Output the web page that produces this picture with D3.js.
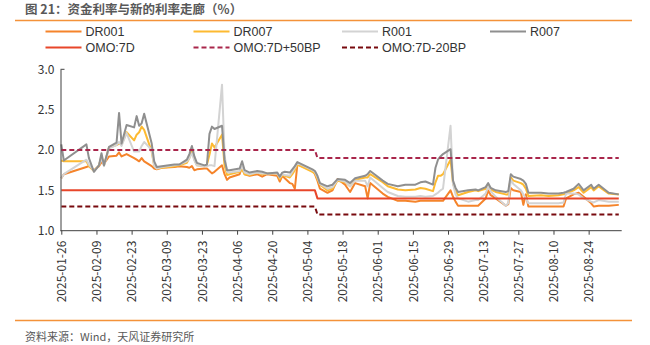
<!DOCTYPE html>
<html><head><meta charset="utf-8">
<script src="https://cdn.jsdelivr.net/npm/d3@7"></script>
<style>
body{margin:0;background:#fff;}
svg{display:block;font-family:"Noto Sans CJK SC","Noto Sans",sans-serif;}
</style></head><body>
<svg id="c" width="650" height="345"></svg>
<script>
// ---- data ----
const dates = ["2025-01-26","2025-01-27","2025-02-05","2025-02-06","2025-02-08","2025-02-10","2025-02-11","2025-02-12","2025-02-14","2025-02-17",
"2025-02-18","2025-02-19","2025-02-21","2025-02-24","2025-02-25","2025-02-26","2025-02-27","2025-02-28","2025-03-03","2025-03-04",
"2025-03-05","2025-03-07","2025-03-12","2025-03-14","2025-03-17","2025-03-18","2025-03-19","2025-03-20","2025-03-21","2025-03-24",
"2025-03-25","2025-03-26","2025-03-27","2025-03-28","2025-03-31","2025-04-01","2025-04-02","2025-04-03","2025-04-07","2025-04-08",
"2025-04-09","2025-04-11","2025-04-14","2025-04-16","2025-04-18","2025-04-22","2025-04-23","2025-04-24","2025-04-25","2025-04-27",
"2025-04-28","2025-04-29","2025-04-30","2025-05-06","2025-05-07","2025-05-08","2025-05-09","2025-05-12","2025-05-14","2025-05-16",
"2025-05-19","2025-05-21","2025-05-23","2025-05-27","2025-05-28","2025-05-29","2025-06-03","2025-06-05","2025-06-09","2025-06-12",
"2025-06-16","2025-06-18","2025-06-20","2025-06-23","2025-06-24","2025-06-25","2025-06-26","2025-06-27","2025-06-30","2025-07-01",
"2025-07-02","2025-07-03","2025-07-07","2025-07-10","2025-07-11","2025-07-14","2025-07-15","2025-07-16","2025-07-18","2025-07-22",
"2025-07-23","2025-07-24","2025-07-25","2025-07-28","2025-07-29","2025-07-30","2025-07-31","2025-08-05","2025-08-08","2025-08-12",
"2025-08-14","2025-08-15","2025-08-18","2025-08-20","2025-08-22","2025-08-25","2025-08-26","2025-08-28","2025-09-01","2025-09-05"];

const dr001 = [1.65,1.70,1.79,1.80,1.75,1.80,1.85,1.83,1.92,1.93,
1.97,1.92,1.95,1.90,1.88,1.86,1.90,1.86,1.80,1.77,
1.76,1.78,1.79,1.80,1.79,1.78,1.80,1.75,1.76,1.77,
1.77,1.74,1.71,1.73,1.81,1.70,1.63,1.66,1.70,1.79,
1.70,1.68,1.70,1.67,1.70,1.68,1.61,1.68,1.65,1.59,
1.58,1.52,1.82,1.75,1.70,1.62,1.52,1.47,1.50,1.64,
1.57,1.48,1.59,1.55,1.40,1.59,1.46,1.42,1.37,1.37,
1.36,1.37,1.37,1.37,1.37,1.37,1.37,1.37,1.50,1.42,
1.36,1.31,1.31,1.31,1.31,1.40,1.50,1.44,1.40,1.31,
1.33,1.53,1.50,1.48,1.32,1.45,1.30,1.30,1.30,1.30,
1.30,1.40,1.45,1.47,1.42,1.34,1.30,1.31,1.31,1.32];

const dr007 = [1.87,1.86,1.86,1.80,1.74,1.81,1.92,1.81,2.03,2.06,
2.08,2.07,2.22,2.12,2.19,2.22,2.29,2.25,1.98,1.80,
1.77,1.78,1.80,1.81,1.84,1.90,2.00,1.88,1.81,1.80,
1.82,1.94,2.08,2.03,2.19,1.81,1.69,1.70,1.73,1.76,
1.70,1.69,1.72,1.70,1.71,1.71,1.64,1.69,1.68,1.66,
1.70,1.75,1.82,1.73,1.71,1.64,1.57,1.50,1.52,1.62,
1.60,1.55,1.63,1.66,1.66,1.70,1.60,1.55,1.51,1.50,
1.51,1.53,1.52,1.49,1.60,1.68,1.68,1.70,1.88,1.58,
1.50,1.44,1.48,1.50,1.49,1.52,1.57,1.51,1.48,1.45,
1.45,1.66,1.62,1.59,1.57,1.52,1.43,1.44,1.43,1.44,
1.45,1.46,1.50,1.54,1.47,1.54,1.50,1.55,1.46,1.45];

const r001 = [1.65,1.70,1.88,1.82,1.74,1.81,1.90,1.80,2.02,2.06,
2.10,2.05,2.21,1.98,1.98,1.98,2.05,2.10,2.00,1.80,
1.77,1.79,1.81,1.82,1.86,1.90,1.96,1.87,1.81,1.80,
1.80,1.81,1.81,1.80,2.81,1.94,1.73,1.72,1.74,1.80,
1.72,1.70,1.72,1.71,1.71,1.71,1.66,1.70,1.69,1.68,
1.73,1.78,1.84,1.75,1.73,1.66,1.58,1.52,1.54,1.63,
1.61,1.55,1.62,1.62,1.55,1.66,1.53,1.48,1.43,1.42,
1.42,1.43,1.42,1.43,1.45,1.47,1.50,1.52,2.30,1.58,
1.45,1.40,1.36,1.38,1.38,1.46,1.55,1.49,1.42,1.31,
1.34,1.63,1.58,1.50,1.45,1.40,1.34,1.34,1.34,1.34,
1.35,1.46,1.46,1.45,1.40,1.36,1.35,1.38,1.36,1.36];

const r007 = [2.07,1.87,2.07,1.90,1.73,1.81,1.96,1.81,2.04,2.09,
2.46,2.08,2.31,2.28,2.42,2.30,2.33,2.45,2.08,1.86,
1.79,1.80,1.82,1.82,1.88,1.95,2.05,1.92,1.84,1.81,
1.82,2.20,2.29,2.26,2.30,1.88,1.75,1.75,1.77,1.86,
1.75,1.72,1.74,1.73,1.71,1.72,1.67,1.72,1.73,1.72,
1.76,1.80,1.85,1.76,1.74,1.68,1.59,1.55,1.57,1.64,
1.63,1.59,1.65,1.68,1.70,1.74,1.62,1.58,1.55,1.57,
1.57,1.60,1.61,1.57,1.78,1.88,1.92,1.95,2.01,1.62,
1.53,1.48,1.50,1.51,1.50,1.54,1.59,1.53,1.50,1.48,
1.49,1.70,1.67,1.64,1.62,1.58,1.47,1.47,1.46,1.46,
1.47,1.48,1.52,1.58,1.50,1.57,1.52,1.57,1.47,1.45];

const omoDates = ["2025-01-26","2025-05-07","2025-05-08","2025-09-05"];
const omo7d    = [1.5,1.5,1.4,1.4];
const omoUp    = [2.0,2.0,1.9,1.9];
const omoDown  = [1.3,1.3,1.2,1.2];

const yTicks = [1.0,1.5,2.0,2.5,3.0];
const xTickDates = ["2025-01-26","2025-02-09","2025-02-23","2025-03-09","2025-03-23","2025-04-06","2025-04-20",
"2025-05-04","2025-05-18","2025-06-01","2025-06-15","2025-06-29","2025-07-13","2025-07-27","2025-08-10","2025-08-24"];

const title = "图 21：资金利率与新的利率走廊（%）";
const source = "资料来源：Wind，天风证券研究所";

// ---- drawing ----
const parse = d3.timeParse("%Y-%m-%d");
const svg = d3.select("#c");
const x = d3.scaleTime().domain([parse("2025-01-26"), parse("2025-09-06")]).range([61.3, 621.3]);
const y = d3.scaleLinear().domain([1.0, 3.0]).range([230.7, 69.3]);

// title & frame lines
svg.append("text").attr("x",25).attr("y",14).attr("font-size",12.5).attr("font-weight","bold")
  .attr("fill","#595959").text(title);
svg.append("line").attr("x1",15).attr("x2",632).attr("y1",20.5).attr("y2",20.5).attr("stroke","#F4923A").attr("stroke-width",1.3);
svg.append("line").attr("x1",15).attr("x2",632).attr("y1",320.5).attr("y2",320.5).attr("stroke","#F4923A").attr("stroke-width",1.3);
svg.append("text").attr("x",25).attr("y",341).attr("font-size",11).attr("fill","#595959").text(source);

// series
const series = [
  {name:"DR001", d:dates, v:dr001, color:"#F5842B", dash:null},
  {name:"DR007", d:dates, v:dr007, color:"#FDBA31", dash:null},
  {name:"R001",  d:dates, v:r001,  color:"#D3D3D3", dash:null},
  {name:"R007",  d:dates, v:r007,  color:"#8F8F8F", dash:null},
  {name:"OMO:7D", d:omoDates, v:omo7d, color:"#E8462A", dash:null},
  {name:"OMO:7D+50BP", d:omoDates, v:omoUp, color:"#A9264B", dash:"5,3"},
  {name:"OMO:7D-20BP", d:omoDates, v:omoDown, color:"#780A0E", dash:"5,3"}
];
const line = d3.line().x(p=>x(p[0])).y(p=>y(p[1]));
const g = svg.append("g");
series.forEach(s=>{
  const pts = s.d.map((dd,i)=>[parse(dd), s.v[i]]);
  g.append("path").attr("d", line(pts)).attr("fill","none").attr("stroke",s.color)
   .attr("stroke-width",2).attr("stroke-linejoin","round")
   .attr("stroke-dasharray", s.dash);
});

// axes
const yAxis = svg.append("g").attr("transform","translate(60.5,0)")
  .call(d3.axisLeft(y).tickValues(yTicks).tickFormat(d3.format(".1f")).tickSize(0).tickPadding(6));
yAxis.select(".domain").attr("stroke","#404040");
yAxis.selectAll("text").attr("font-size",12).attr("fill","#333").attr("font-family","\"Noto Sans CJK SC\",sans-serif");
svg.append("line").attr("x1",60.5).attr("x2",64.5).attr("y1",y(3.0)).attr("y2",y(3.0)).attr("stroke","#404040");

const xAxis = svg.append("g").attr("transform","translate(0,230.7)")
  .call(d3.axisBottom(x).tickValues(xTickDates.map(parse)).tickFormat(d3.timeFormat("%Y-%m-%d")).tickSize(4));
xAxis.select(".domain").remove();
svg.append("line").attr("x1",60.5).attr("x2",621.7).attr("y1",230.7).attr("y2",230.7).attr("stroke","#404040");
xAxis.selectAll(".tick line").attr("stroke","#404040");
xAxis.selectAll("text").attr("font-size",12).attr("fill","#333").attr("font-family","\"Noto Sans CJK SC\",sans-serif")
  .attr("transform","rotate(-90)").attr("text-anchor","end").attr("x",-10).attr("y",0).attr("dy","0.35em");

// legend
const leg = [
  {i:0, lx:45.5, ly:31.5},{i:1, lx:193.5, ly:31.5},{i:2, lx:342, ly:31.5},{i:3, lx:490, ly:31.5},
  {i:4, lx:45.5, ly:47.5},{i:5, lx:193.5, ly:47.5},{i:6, lx:342, ly:47.5}
];
leg.forEach(l=>{
  const s = series[l.i];
  svg.append("line").attr("x1",l.lx).attr("x2",l.lx+36).attr("y1",l.ly).attr("y2",l.ly)
    .attr("stroke",s.color).attr("stroke-width",2).attr("stroke-dasharray",s.dash);
  svg.append("text").attr("x",l.lx+40).attr("y",l.ly).attr("dy","0.35em").attr("font-size",12.5)
    .attr("font-family","\"Liberation Sans\",Arial,sans-serif")
    .attr("fill","#333").text(s.name);
});
</script>
</body></html>
